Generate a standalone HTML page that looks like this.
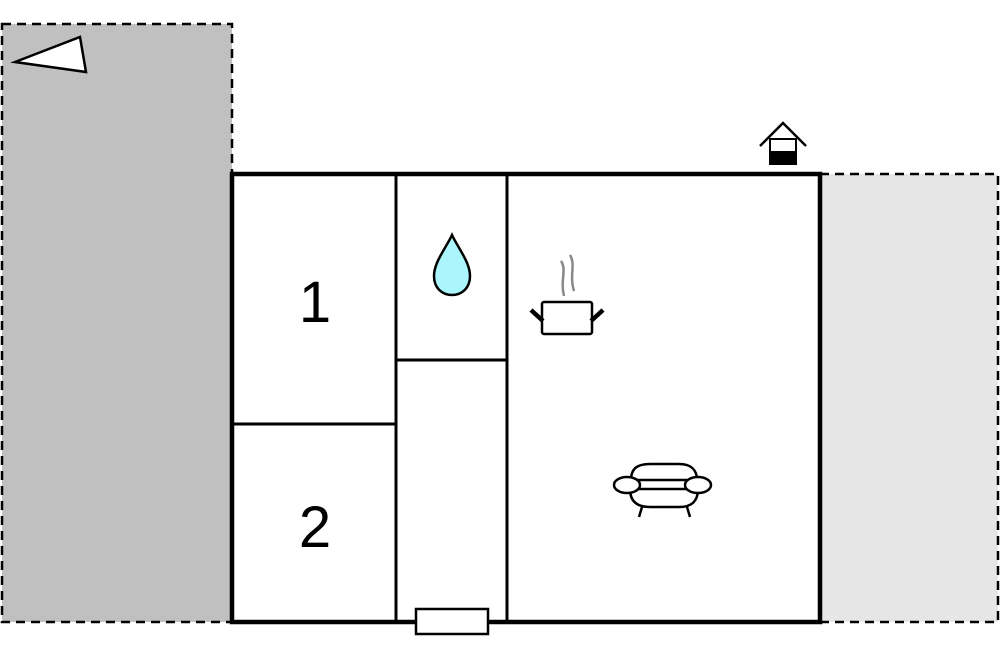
<!DOCTYPE html>
<html><head><style>html,body{margin:0;padding:0;background:#fff;}svg{display:block}</style></head>
<body>
<svg width="1000" height="645" viewBox="0 0 1000 645" xmlns="http://www.w3.org/2000/svg">
<rect x="2" y="24" width="230" height="598" fill="#c0c0c0" stroke="#000" stroke-width="2.5" stroke-dasharray="9,6"/>
<rect x="820" y="174" width="178" height="448" fill="#e6e6e6" stroke="#000" stroke-width="2.5" stroke-dasharray="9,6"/>
<polygon points="15,62 80,37 86,72" fill="#fff" stroke="#000" stroke-width="2.5"/>
<rect x="232" y="174" width="588" height="448" fill="#fff" stroke="#000" stroke-width="4.5"/>
<g stroke="#000" stroke-width="3">
<line x1="396" y1="174" x2="396" y2="622"/>
<line x1="507" y1="174" x2="507" y2="622"/>
<line x1="232" y1="424" x2="396" y2="424"/>
<line x1="396" y1="360" x2="507" y2="360"/>
</g>
<rect x="416" y="609" width="72" height="25" fill="#fff" stroke="#000" stroke-width="2.5"/>
<text x="315" y="322" font-family="Liberation Sans, sans-serif" font-size="58" text-anchor="middle">1</text>
<text x="315" y="547" font-family="Liberation Sans, sans-serif" font-size="58" text-anchor="middle">2</text>
<path d="M452,235 C446,248 434,262 434,276 C434,288 442,295 452,295 C462,295 470,288 470,276 C470,262 458,248 452,235 Z" fill="#aaf6fc" stroke="#000" stroke-width="2.5"/>
<polyline points="760,146 783,123 806,146" fill="none" stroke="#000" stroke-width="2.5"/>
<rect x="770" y="139" width="26" height="25" fill="#fff" stroke="#000" stroke-width="2"/>
<rect x="770" y="151" width="26" height="13" fill="#000"/>
<rect x="542" y="302" width="50" height="32" rx="2" fill="#fff" stroke="#000" stroke-width="2.5"/>
<line x1="531" y1="310" x2="543" y2="321" stroke="#000" stroke-width="4.5"/>
<line x1="603" y1="310" x2="591" y2="321" stroke="#000" stroke-width="4.5"/>
<path d="M561,261 C567,270 560,280 564,296 M570,255 C576,265 569,275 574,291" fill="none" stroke="#888" stroke-width="2.5"/>
<path d="M631,480 C631,468 638,464 650,464 L679,464 C691,464 697,470 697,480 Z" fill="#fff" stroke="#000" stroke-width="2.5"/>
<path d="M630,489 C630,502 638,507 650,507 L679,507 C691,507 698,502 698,489" fill="#fff" stroke="#000" stroke-width="2.5"/>
<line x1="635" y1="489" x2="692" y2="489" stroke="#000" stroke-width="2.5"/>
<ellipse cx="627" cy="485" rx="13" ry="8" fill="#fff" stroke="#000" stroke-width="2.5"/>
<ellipse cx="698" cy="485" rx="13" ry="8" fill="#fff" stroke="#000" stroke-width="2.5"/>
<line x1="642" y1="507" x2="639" y2="517" stroke="#000" stroke-width="2.5"/>
<line x1="687" y1="507" x2="690" y2="517" stroke="#000" stroke-width="2.5"/>
</svg>
</body></html>
